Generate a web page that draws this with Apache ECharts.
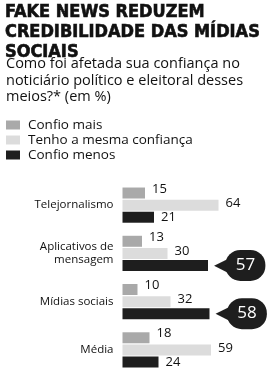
<!DOCTYPE html>
<html><head><meta charset="utf-8">
<script src="https://cdn.jsdelivr.net/npm/echarts@6/dist/echarts.min.js"></script>
<style>html,body{margin:0;padding:0;background:#fff}#c{width:277px;height:374px}</style>
</head><body><div id="c"></div>
<script>
const titleText = 'FAKE NEWS REDUZEM\nCREDIBILIDADE DAS MÍDIAS\nSOCIAIS';
const subtitleText = 'Como foi afetada sua confiança no\nnoticiário político e eleitoral desses\nmeios?* (em %)';
const categories = ['Telejornalismo', 'Aplicativos de\nmensagem', 'Mídias sociais', 'Média'];
const seriesNames = ['Confio mais', 'Tenho a mesma confiança', 'Confio menos'];
const confioMais = [15, 13, 10, 18];
const mesmaConfianca = [64, 30, 32, 59];
const confioMenos = [21, 57, 58, 24];
const highlighted = [false, true, true, false];

const colors = ['#a9a9a9', '#dcdcdc', '#1e1e1e'];
const chart = echarts.init(document.getElementById('c'));
const plainLabel = (dy) => ({
  show: true, position: 'right', distance: 7, offset: [0, dy],
  fontFamily: 'Open Sans', fontSize: 13, color: '#111'
});
chart.setOption({
  animation: false,
  title: [{
    text: titleText, left: 5, top: 2, padding: 0,
    textStyle: { fontFamily: 'DejaVu Sans Condensed', fontWeight: 'bold', fontSize: 18, lineHeight: 20, color: '#111',
                 textBorderColor: '#111', textBorderWidth: 0.6 }
  }, {
    text: subtitleText, left: 6, top: 56, padding: 0,
    textStyle: { fontFamily: 'Open Sans', fontWeight: 'normal', fontSize: 14.5, lineHeight: 16.5, color: '#111' }
  }],
  legend: {
    orient: 'vertical', left: 6, top: 118, padding: 0, itemWidth: 14, itemHeight: 9, itemGap: 1,
    icon: 'rect',
    textStyle: { fontFamily: 'Open Sans', fontSize: 13.5, color: '#111', padding: [0,0,0,3] },
    data: seriesNames
  },
  grid: { left: 122.5, right: 4.5, top: 181, bottom: -3, containLabel: false },
  xAxis: { type: 'value', min: 0, max: 100, show: false },
  yAxis: {
    type: 'category', data: categories, inverse: true,
    axisLine: { show: false }, axisTick: { show: false },
    axisLabel: { fontFamily: 'Open Sans', fontSize: 11.5, color: '#111', margin: 9, lineHeight: 13, padding: [0,0,9,0] }
  },
  series: [
    { name: seriesNames[0], type: 'bar', data: confioMais, barWidth: 11, barGap: '10%',
      itemStyle: { color: colors[0] }, label: plainLabel(-4) },
    { name: seriesNames[1], type: 'bar', data: mesmaConfianca, barWidth: 11, barGap: '10%',
      itemStyle: { color: colors[1] }, label: plainLabel(-2) },
    { name: seriesNames[2], type: 'bar', barWidth: 11, barGap: '10%',
      itemStyle: { color: colors[2] },
      data: confioMenos.map((v, i) => highlighted[i] ? {
        value: v,
        label: {
          show: true, position: 'right', distance: 6,
          formatter: '{tri|◀}{num|{c}}',
          rich: {
            tri: { fontFamily: 'DejaVu Sans', fontSize: 20, color: '#1e1e1e', padding: [0,-4,0,0] },
            num: { fontFamily: 'Open Sans', fontSize: 17, color: '#fff', backgroundColor: '#1e1e1e',
                   borderRadius: 15, padding: [5, 10, 6, 10], height: 20, width: 20, align: 'center' }
          }
        }
      } : v),
      label: plainLabel(0) }
  ]
});
</script></body></html>
